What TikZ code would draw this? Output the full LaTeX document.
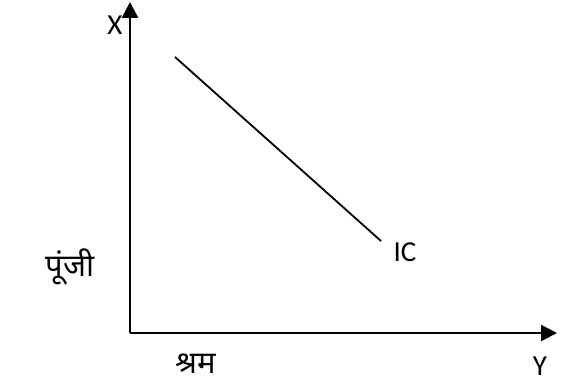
\documentclass[tikz,border=0pt]{standalone}
\usepackage{fontspec}
\setmainfont{Carlito}
\newfontfamily\devfont[Script=Devanagari]{Noto Sans}
\usetikzlibrary{arrows.meta,positioning}

\begin{document}
\begin{tikzpicture}[
    x=1pt,y=1pt,
    font=\fontsize{29}{33}\selectfont,
    axis/.style={-{Triangle[length=16pt,width=16pt]},line width=2.7pt,draw=black},
    curve/.style={line width=1.8pt,draw=black},
    axislabel/.style={inner sep=0pt,text=black},
    hindi/.style={axislabel,font=\devfont\fontsize{31}{35}\selectfont}
  ]
    \useasboundingbox (0,0) rectangle (567,383);

    \coordinate (o) at (130,50);
    \coordinate (ytop) at (130,381);
    \coordinate (xend) at (557,50);
    \coordinate (ics) at (175,326);
    \coordinate (ice) at (381,142);

    \draw[axis] (o) -- (ytop);
    \draw[axis] (o) -- (xend);
    \draw[curve] (ics) -- (ice);

    \node[axislabel] (xl) at (115,358) {X};
    \node[axislabel] (icl) at (405,131) {IC};
    \node[axislabel] (yl) at (540,17) {Y};
    \node[hindi] (kap) at (70,116) {पूंजी};
    \node[hindi] (lab) at (196,19) {श्रम};
  \end{tikzpicture}
\end{document}
